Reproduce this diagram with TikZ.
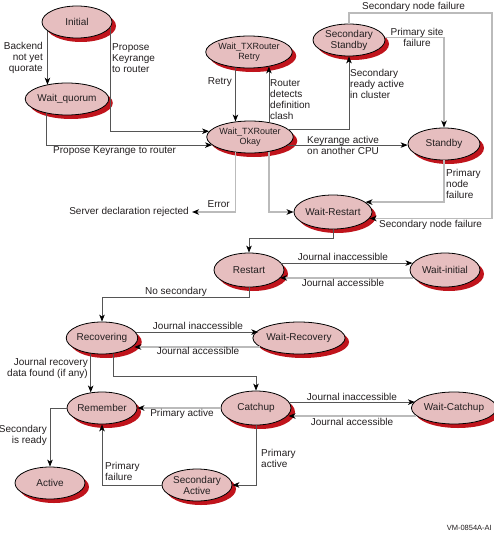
\documentclass[tikz,border=0pt]{standalone}
\usepackage{fontspec}
\setmainfont{Liberation Sans}
\usetikzlibrary{shapes.geometric,shadows,arrows.meta,calc}
\definecolor{nodefill}{HTML}{E6BEBF}
\definecolor{shadowred}{HTML}{C0141C}
\definecolor{dkline}{HTML}{555555}
\definecolor{ltline}{HTML}{BBBBBB}
\definecolor{txt}{HTML}{231F20}
\begin{document}
\begin{tikzpicture}[x=1pt,y=-1pt,
  state/.style={ellipse, draw=black, line width=0.8pt, fill=nodefill,
    minimum width=70pt, minimum height=32pt, inner sep=0pt, text=txt,
    font=\fontsize{10}{11}\selectfont, align=center,
    drop shadow={shadow xshift=4pt, shadow yshift=-4pt, fill=shadowred, opacity=1}},
  lbl/.style={inner sep=0pt, text=txt, font=\fontsize{10}{11}\selectfont},
  tip/.style={-{Stealth[length=7pt,width=5.5pt,inset=2pt,color=black]}},
  dk/.style={draw=dkline, line width=0.8pt, tip},
  lt/.style={draw=ltline, line width=1.4pt, tip}
]
\useasboundingbox (0,0) rectangle (494,535);
\fill[white] (0,0) rectangle (494,535);

% states
\node[state] (init) at (77,22) {Initial};
\node[state] (wq) at (67,99) {Wait\_quorum};
\node[state, minimum width=68pt, font=\fontsize{9}{10}\selectfont] (retry) at (249,52) {Wait\_TXRouter\\Retry};
\node[state, minimum width=72pt] (sstandby) at (349,40) {Secondary\\Standby};
\node[state, minimum width=74pt, font=\fontsize{9}{10}\selectfont] (okay) at (250,137) {Wait\_TXRouter\\Okay};
\node[state, minimum width=72pt] (standby) at (444,144) {Standby};
\node[state, minimum height=34pt] (wrestart) at (333,212) {Wait-Restart};
\node[state, minimum height=34pt] (restart) at (249,270) {Restart};
\node[state, minimum height=34pt] (winit) at (445,270) {Wait-initial};
\node[state] (recov) at (102,338) {Recovering};
\node[state, minimum width=68pt] (wrecov) at (299,338) {Wait-Recovery};
\node[state] (remember) at (102,408) {Remember};
\node[state, minimum height=34pt] (catchup) at (256,408) {Catchup};
\node[state, minimum width=72pt] (wcatch) at (454,408) {Wait-Catchup};
\node[state] (active) at (50,483) {Active};
\node[state] (sactive) at (197,485) {Secondary\\Active};

\node[lbl, anchor=east, inner xsep=3pt] (reject) at (192,212) {Server declaration rejected};
\coordinate (snf) at (492,13);
\coordinate (rcturn) at (0,376);

% connectors
\draw[dk] (init.197) -- (init.197 |- wq.145);
\draw[dk] (init.351) |- (okay.172);
\draw[dk] (wq.215) |- (okay.192);
\draw[dk] (retry.229) -- (retry.229 |- okay.133);
\draw[dk] (okay.38) -- (okay.38 |- retry.325);
\draw[dk] (okay.12) -| (sstandby.south);
\draw[dk] (okay.348) -- (okay.348 -| standby.west);
\draw[lt] (sstandby.4) -| (standby.north);
\draw[lt] (sstandby.north) |- (snf) |- (wrestart.350);
\draw[lt] (standby.south) |- (wrestart.17);
\draw[lt] (okay.227) |- (reject.east);
\draw[lt] (okay.322) |- (wrestart.west);
\draw[dk] (wrestart.south) -- ++(0,9) -| (restart.north);
\draw[dk] (restart.12) -- (restart.12 -| winit.168);
\draw[lt] (winit.194) -- (winit.194 -| restart.345);
\draw[dk] (restart.south) -- ++(0,10) -| (recov.north);
\draw[dk] (recov.10) -- (recov.10 -| wrecov.169);
\draw[lt] (wrecov.193) -- (wrecov.193 -| recov.347);
\draw[dk] (recov.234) -- (recov.234 |- remember.126);
\draw[dk] (recov.306) -- (recov.306 |- rcturn) -| (catchup.north);
\draw[dk] (catchup.10) -- (catchup.10 -| wcatch.170);
\draw[lt] (wcatch.192) -- (wcatch.192 -| catchup.348);
\draw[lt] (catchup.west) -- (remember.east);
\draw[dk] (remember.west) -| (active.north);
\draw[dk] (catchup.south) |- (sactive.east);
\draw[dk] (sactive.west) -| (remember.south);

% labels
\node[lbl, anchor=east, align=right] (l1) at (43,58) {Backend\\not yet\\quorate};
\node[lbl, anchor=west, align=left] (l2) at (112,58) {Propose\\Keyrange\\to router};
\node[lbl, anchor=west] (l3) at (53,151) {Propose Keyrange to router};
\node[lbl, anchor=east] (l4) at (232,82) {Retry};
\node[lbl, anchor=west, align=left] (l5) at (270,100) {Router\\detects\\definition\\clash};
\node[lbl, anchor=west, align=left] (l6) at (350,84) {Secondary\\ready active\\in cluster};
\node[lbl, anchor=west, align=left] (l7) at (307,145.5) {Keyrange active\\on another CPU};
\node[lbl, align=center] (l8) at (417,37.5) {Primary site\\failure};
\node[lbl, anchor=west] (l9) at (362,7) {Secondary node failure};
\node[lbl, anchor=west] (l10) at (379,225) {Secondary node failure};
\node[lbl, anchor=west, align=left] (l11) at (446,184) {Primary\\node\\failure};
\node[lbl, anchor=east] (l12) at (230,204) {Error};
\node[lbl] (l13) at (343,257) {Journal inaccessible};
\node[lbl] (l14) at (343,283) {Journal accessible};
\node[lbl] (l15) at (176,292) {No secondary};
\node[lbl] (l16) at (198,326) {Journal inaccessible};
\node[lbl] (l17) at (198,351) {Journal accessible};
\node[lbl, anchor=east, align=right] (l18) at (88,368.5) {Journal recovery\\data found (if any)};
\node[lbl] (l19) at (352,397) {Journal inaccessible};
\node[lbl] (l20) at (352,422) {Journal accessible};
\node[lbl] (l21) at (182,414) {Primary active};
\node[lbl, anchor=east, align=right] (l22) at (47,435.5) {Secondary\\is ready};
\node[lbl, anchor=west, align=left] (l23) at (261,458) {Primary\\active};
\node[lbl, anchor=west, align=left] (l24) at (105,471.5) {Primary\\failure};
\node[lbl, anchor=east, font=\fontsize{7.5}{9}\selectfont] (l25) at (492,528) {VM-0854A-AI};
\end{tikzpicture}
\end{document}
